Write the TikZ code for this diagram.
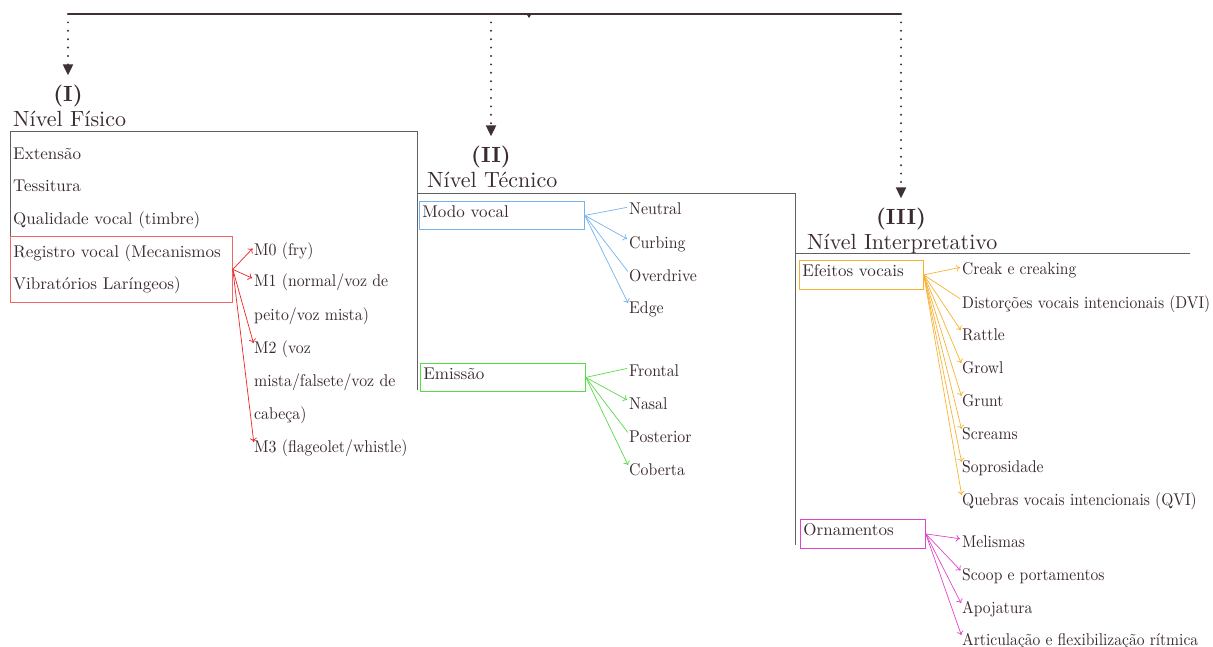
\documentclass[tikz,border=0pt]{standalone}
\usepackage{fontspec}
\setmainfont{lmroman10-regular.otf}[BoldFont=lmroman10-bold.otf]
\newfontfamily\narrowfont{lmroman10-regular.otf}[FakeStretch=0.93]
\newfontfamily\narrowerfont{lmroman10-regular.otf}[FakeStretch=0.915]
\usetikzlibrary{arrows.meta}
\definecolor{txt}{HTML}{3B2A30}
\definecolor{topc}{HTML}{3D3038}
\definecolor{framec}{HTML}{606060}
\definecolor{redc}{HTML}{EE2222}
\definecolor{redbox}{HTML}{F06666}
\definecolor{bluec}{HTML}{74B3F0}
\definecolor{greenc}{HTML}{55DD44}
\definecolor{orangec}{HTML}{F8B233}
\definecolor{magc}{HTML}{E044CC}
\begin{document}
\begin{tikzpicture}[x=1pt,y=-1pt,
  every node/.style={text=txt, font=\fontsize{17}{20}\selectfont},
  item/.style={anchor=base west, inner sep=0pt, text height=16pt, text depth=0pt, font=\fontsize{17}{20}\narrowfont},
  ritem/.style={item, font=\fontsize{17}{20}\narrowerfont},
  plain/.style={anchor=base west, inner sep=0pt},
  sub/.style={plain, font=\fontsize{17}{20}\narrowfont},
  hdr/.style={anchor=base west, inner sep=0pt, font=\fontsize{22}{26}\selectfont},
  num/.style={anchor=base, inner sep=0pt, font=\fontsize{22}{26}\selectfont\bfseries},
  frame/.style={draw=framec, line width=0.8pt},
  bx/.style={anchor=north west, inner xsep=3pt, inner ysep=0pt, align=left, line width=0.8pt},
  sbx/.style={bx, text height=10pt, text depth=6pt},
  arr/.style={line width=0.7pt, -{To[length=4pt,width=7pt]}, shorten >=2pt},
  ln/.style={line width=0.7pt, shorten >=2pt},
  dots/.style={draw=topc, line width=2.2pt, dash pattern=on 0pt off 8.4pt, line cap=round, -{Triangle[length=11pt,width=10pt]}, shorten >=10pt},
]
\useasboundingbox (0,0) rectangle (1213,647);

% top bar
\coordinate (tl) at (68,14);
\coordinate (tm) at (491,14);
\coordinate (tr) at (901,14);
\coordinate (tk) at (529,14);
\draw[topc, line width=2pt] (tl) -- (tr);
\fill[topc] (tk) ++(-2.5,0) -- ++(5,0) -- ++(-2.5,4) -- cycle;

% headers
\node[num] (n1) at (68,102) {(I)};
\node[hdr] (h1) at (13,127) {Nível Físico};
\node[num] (n2) at (491,163) {(II)};
\node[hdr] (h2) at (427,188) {Nível Técnico};
\node[num] (n3) at (901,225) {(III)};
\node[hdr] (h3) at (807,250) {Nível Interpretativo};

\draw[dots] (tl) -- (n1);
\draw[dots] (tm) -- (n2);
\draw[dots] (tr) -- (n3);

% frames
\draw[frame] (417,390) -- (417,131) -- (10,131) -- (10,302);
\draw[frame] (417,193) -- (795,193) -- (795,545);
\draw[frame] (795,253) -- (1190,253);

% Nivel fisico
\node[plain] (ext) at (13,160) {Extensão};
\node[plain] (tes) at (13,192) {Tessitura};
\node[plain] (qua) at (13,225) {Qualidade vocal (timbre)};
\node[bx, draw=redbox, minimum width=222pt, minimum height=66pt, text width=216pt,
      font=\fontsize{17}{32.5}\selectfont] (reg) at (10,236)
      {\mbox{Registro vocal (Mecanismos}\\\mbox{Vibratórios Laríngeos)}};
\node[item] (m0) at (254,255) {M0 (fry)};
\node[item] (m1) at (254,287) {M1 (normal/voz de};
\node[sub] (m1b) at (254,320) {peito/voz mista)};
\node[item] (m2) at (254,353) {M2 (voz};
\node[sub] (m2b) at (254,386) {mista/falsete/voz de};
\node[sub] (m2c) at (254,419) {cabeça)};
\node[item] (m3) at (254,452) {M3 (flageolet/whistle)};
\foreach \t in {m0,m1,m2,m3} \draw[arr, redc] (reg.east) -- (\t.west);

% Nivel tecnico
\node[sbx, draw=bluec, minimum width=165pt, minimum height=28pt, text width=159pt] (modo) at (419,201) {Modo vocal};
\node[item] (neu) at (629,215) {Neutral};
\node[item] (cur) at (629,248) {Curbing};
\node[item] (ove) at (629,281) {Overdrive};
\node[item] (edg) at (629,313) {Edge};
\draw[ln, bluec] (modo.east) -- (neu.west);
\draw[arr, bluec] (modo.east) -- (cur.west);
\draw[ln, bluec] (modo.east) -- (ove.west);
\draw[arr, bluec] (modo.east) -- (edg.west);

\node[sbx, draw=greenc, minimum width=165pt, minimum height=28pt, text width=159pt] (emi) at (420,363) {Emissão};
\node[item] (fro) at (629,376) {Frontal};
\node[item] (nas) at (629,409) {Nasal};
\node[item] (pos) at (629,442) {Posterior};
\node[item] (cob) at (629,475) {Coberta};
\draw[ln, greenc] (emi.east) -- (fro.west);
\draw[arr, greenc] (emi.east) -- (nas.west);
\draw[ln, greenc] (emi.east) -- (pos.west);
\draw[arr, greenc] (emi.east) -- (cob.west);

% Nivel interpretativo
\node[sbx, draw=orangec, minimum width=124pt, minimum height=29pt, text width=118pt] (efe) at (799,260) {Efeitos vocais};
\node[ritem] (cre) at (962,275) {Creak e creaking};
\node[ritem] (dvi) at (962,308) {Distorções vocais intencionais (DVI)};
\node[ritem] (rat) at (962,340) {Rattle};
\node[ritem] (gro) at (962,373) {Growl};
\node[ritem] (gru) at (962,406) {Grunt};
\node[ritem] (scr) at (962,439) {Screams};
\node[ritem] (sop) at (962,472) {Soprosidade};
\node[ritem] (qvi) at (962,505) {Quebras vocais intencionais (QVI)};
\draw[ln, orangec] (efe.east) -- (dvi.west);
\foreach \t in {cre,rat,gro,gru,scr,sop,qvi} \draw[arr, orangec] (efe.east) -- (\t.west);

\node[sbx, draw=magc, minimum width=125pt, minimum height=29pt, text width=119pt] (orn) at (800,519) {Ornamentos};
\node[ritem] (mel) at (962,547) {Melismas};
\node[ritem] (sco) at (962,580) {Scoop e portamentos};
\node[ritem] (apo) at (962,613) {Apojatura};
\node[ritem] (art) at (962,645) {Articulação e flexibilização rítmica};
\foreach \t in {mel,sco,apo,art} \draw[arr, magc] (orn.east) -- (\t.west);
\end{tikzpicture}
\end{document}
